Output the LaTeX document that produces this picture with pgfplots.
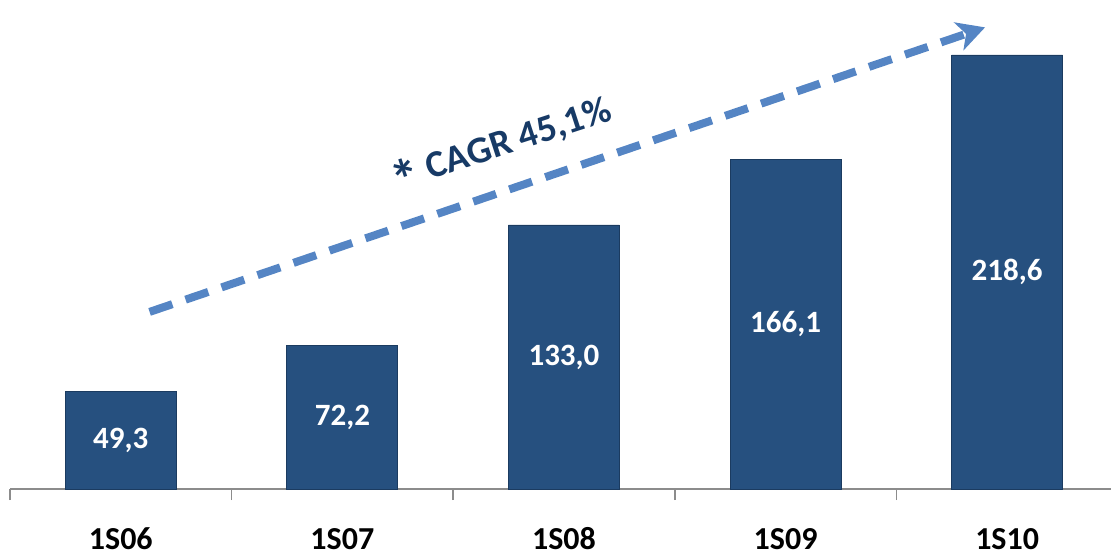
\documentclass[border=0pt]{standalone}
\usepackage{pgfplots}
\pgfplotsset{compat=1.18}
\usepackage{fontspec}
\setmainfont{Carlito}
\usetikzlibrary{arrows.meta}
\definecolor{barblue}{HTML}{26507F}
\definecolor{bardark}{HTML}{1B3B60}
\definecolor{arrowblue}{HTML}{5585C4}
\definecolor{cagrnavy}{HTML}{173A66}
\definecolor{axisgray}{HTML}{8C8C8C}

\begin{document}
\begin{tikzpicture}
\begin{axis}[
  scale only axis,
  width=1108pt, height=489pt,
  xmin=-0.5, xmax=4.5,
  ymin=0, ymax=246.3,
  axis x line=bottom, axis y line=none,
  axis line style={axisgray, line width=1.6pt, -},
  xtick={0,1,2,3,4},
  xticklabels={1S06,1S07,1S08,1S09,1S10},
  major tick length=0pt,
  minor xtick={-0.5,0.5,1.5,2.5,3.5,4.5},
  minor tick length=11pt,
  minor tick style={axisgray, line width=1.6pt},
  tick align=outside,
  xticklabel style={font=\fontsize{32}{38}\selectfont\bfseries, anchor=center, yshift=-50pt},
  clip=false,
]
% bars
\addplot[ybar, bar width=111pt, fill=barblue, draw=bardark, line width=0.8pt]
  coordinates {(0,49.3) (1,72.2) (2,133.0) (3,166.1) (4,218.6)};
% value labels, centred in each bar
\addplot[draw=none, mark=none, nodes near coords, point meta=explicit symbolic,
  every node near coord/.style={anchor=center, text=white, font=\fontsize{31}{36}\selectfont\bfseries}]
  coordinates {(0,24.6)[49,3] (1,36.1)[72,2] (2,66.5)[133,0] (3,83.0)[166,1] (4,109.3)[218,6]};
% CAGR arrow
\addplot[arrowblue, line width=8pt, dash pattern=on 24pt off 14pt,
  -{Stealth[length=28pt, width=30pt, inset=8pt, fill=arrowblue, line width=0pt]}]
  coordinates {(0.13,89.2) (3.90,232.5)};
\node[rotate=18, text=cagrnavy, font=\fontsize{38}{44}\selectfont\bfseries, inner sep=0pt]
  at (axis cs:1.72,172) {\raisebox{-0.32em}{\scalebox{1.5}{*}} CAGR 45,1\%};
\end{axis}
\pgfresetboundingbox
\path (current axis.south west) ++(-10pt,-65pt) coordinate (bbsw);
\path (current axis.south west) ++(1101pt,489pt) coordinate (bbne);
\path (bbsw) rectangle (bbne);
\end{tikzpicture}
\end{document}
